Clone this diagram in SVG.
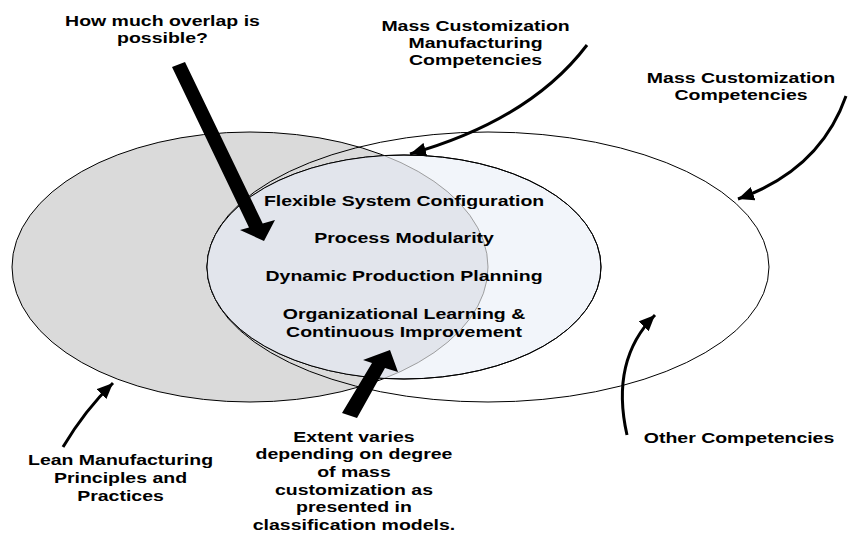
<svg xmlns="http://www.w3.org/2000/svg" width="848" height="540" viewBox="0 0 848 540">
<style>
.t{font-family:"Liberation Sans",Arial,sans-serif;font-weight:bold;font-size:15px;fill:#000;text-anchor:middle}
.ol{stroke:#000;stroke-width:1}
.carrow{fill:none;stroke:#000;stroke-width:3;marker-end:url(#ah)}
</style>
<defs>
<marker id="ah" markerUnits="userSpaceOnUse" markerWidth="18" markerHeight="14" refX="16" refY="7" orient="auto">
<path d="M0,0 L16,7 L0,14 z" fill="#000"/>
</marker>
<clipPath id="innerClip"><ellipse cx="404" cy="267" rx="197" ry="112"/></clipPath>
</defs>
<rect width="848" height="540" fill="#fff"/>

<g id="lean">
<ellipse cx="250" cy="267" rx="238" ry="135" fill="#dadada" class="ol"/>
</g>
<g id="mc-competencies">
<ellipse cx="488" cy="267" rx="281" ry="135" fill="none" class="ol"/>
</g>
<g id="mc-manufacturing">
<ellipse cx="404" cy="267" rx="197" ry="112" fill="#f2f5fa" class="ol"/>
<ellipse cx="250" cy="267" rx="238" ry="135" fill="#e2e5ec" stroke="#8a8a8a" stroke-width="0.8" clip-path="url(#innerClip)"/>
<ellipse cx="404" cy="267" rx="197" ry="112" fill="none" class="ol"/>
</g>

<g id="connectors">
<polygon points="172,67 185,62 262.7,223.5 275,220 264,241 240,230 249,227.4" fill="#000"/>
<polygon points="342,413 357,418 385,368 398,372 390,350 363,360 372,363" fill="#000"/>
<path class="carrow" d="M587,45 Q530,120 410,154"/>
<path class="carrow" d="M846,96 Q820,170 738,199"/>
<path class="carrow" d="M627,435 Q610,360 655,315"/>
<path class="carrow" stroke-width="2.5" d="M63,447 Q85,410 113,383"/>
</g>

<g transform="scale(1.3 1)">
<g id="label-overlap">
<text class="t" x="125" y="26">How much overlap is</text>
<text class="t" x="125" y="43">possible?</text>
</g>
<g id="label-mcmc">
<text class="t" x="365.8" y="31">Mass Customization</text>
<text class="t" x="365.8" y="48">Manufacturing</text>
<text class="t" x="365.8" y="65">Competencies</text>
</g>
<g id="label-mcc">
<text class="t" x="570" y="83">Mass Customization</text>
<text class="t" x="570" y="100">Competencies</text>
</g>
<g id="label-inner">
<text class="t" x="310.8" y="206">Flexible System Configuration</text>
<text class="t" x="310.8" y="243">Process Modularity</text>
<text class="t" x="310.8" y="281">Dynamic Production Planning</text>
<text class="t" x="310.8" y="319">Organizational Learning &amp;</text>
<text class="t" x="310.8" y="337">Continuous Improvement</text>
</g>
<g id="label-extent">
<text class="t" x="272.3" y="442">Extent varies</text>
<text class="t" x="272.3" y="459.5">depending on degree</text>
<text class="t" x="272.3" y="477">of mass</text>
<text class="t" x="272.3" y="495">customization as</text>
<text class="t" x="272.3" y="512.5">presented in</text>
<text class="t" x="272.3" y="530">classification models.</text>
</g>
<g id="label-lean">
<text class="t" x="92.7" y="465">Lean Manufacturing</text>
<text class="t" x="92.7" y="483">Principles and</text>
<text class="t" x="92.7" y="501">Practices</text>
</g>
<g id="label-other">
<text class="t" x="568.5" y="443">Other Competencies</text>
</g>
</g>
</svg>
